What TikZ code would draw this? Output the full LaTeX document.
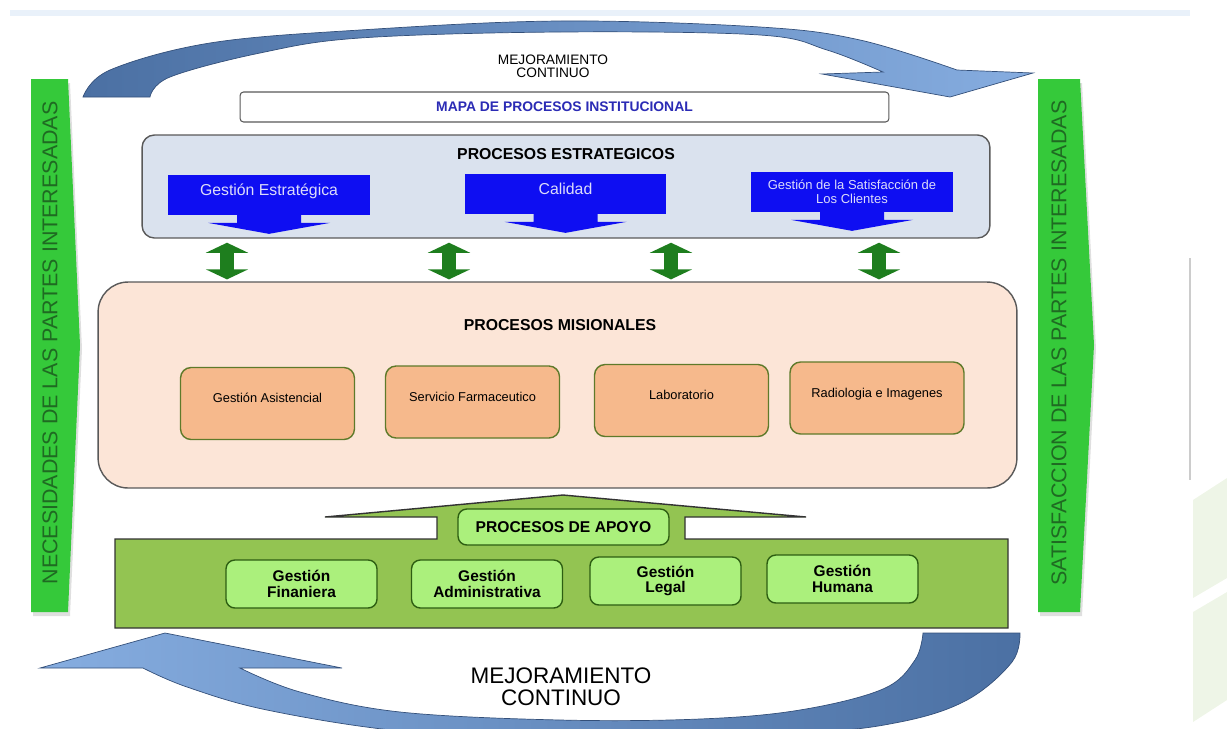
\documentclass[tikz,border=0pt]{standalone}
\usepackage{fontspec}
\setmainfont{Liberation Sans}
\usepackage{xcolor}
\usetikzlibrary{arrows.meta,shapes,calc,positioning}

\definecolor{bandlight}{HTML}{86ADE0}
\definecolor{banddark}{HTML}{4B70A3}
\definecolor{bandedge}{HTML}{34507A}
\definecolor{estrfill}{HTML}{DAE2EE}
\definecolor{boxedge}{HTML}{595959}
\definecolor{estrblue}{HTML}{0E0EF2}
\definecolor{estrtext}{HTML}{DCDCFA}
\definecolor{mapablue}{HTML}{2B2BB5}
\definecolor{misfill}{HTML}{FCE5D7}
\definecolor{orangefill}{HTML}{F6B98C}
\definecolor{orangeedge}{HTML}{5E7A2A}
\definecolor{apoyofill}{HTML}{93C452}
\definecolor{apoyoline}{HTML}{333333}
\definecolor{greenbox}{HTML}{ABF07C}
\definecolor{greenedge}{HTML}{2D5E12}
\definecolor{arrowgreen}{HTML}{1E7E1E}
\definecolor{sidegreen}{HTML}{35C93A}
\definecolor{sidetext}{HTML}{1F6A22}
\definecolor{topline}{HTML}{E9F1FA}
\definecolor{wmark}{HTML}{EEF5E7}

\begin{document}
\begin{tikzpicture}[x=0.02cm, y=-0.02cm]
	\tikzstyle{every node}=[inner sep=0pt]
	\tikzstyle{band}=[draw=bandedge, line width=0.4pt]
	\tikzstyle{sidelabel}=[rotate=90, text=sidetext, font=\fontsize{12.2}{13}\selectfont]
	\tikzstyle{bluebox}=[fill=estrblue, text=estrtext, minimum width=4.04cm, minimum height=0.8cm, font=\fontsize{9}{10}\selectfont]
	\tikzstyle{liftblue}=[text height=6.4pt, text depth=5.6pt]
	\tikzstyle{orangebox}=[draw=orangeedge, fill=orangefill, rounded corners=6pt, line width=0.8pt, minimum width=3.48cm, minimum height=1.44cm, font=\fontsize{7.3}{8}\selectfont, text height=5.2pt, text depth=6.2pt]
	\tikzstyle{apoyotag}=[draw=greenedge, fill=greenbox, rounded corners=5pt, line width=0.8pt]
	\tikzstyle{subbox}=[apoyotag, minimum width=3.02cm, minimum height=0.96cm, align=center, font=\bfseries\fontsize{8.8}{9}\selectfont]
	\tikzstyle{dblgreen}=[draw=arrowgreen, line width=8.5pt, {Triangle[width=23.8pt,length=5.7pt]}-{Triangle[width=23.8pt,length=5.7pt]}, shorten <=2.3pt, shorten >=1.1pt]
	\useasboundingbox (0,0) rectangle (1227,728);

	% background marks
	\fill[topline] (10,10) rectangle (1190,16);
	\fill[wmark] (1193,500) -- (1227,478) -- (1227,578) -- (1193,598) -- cycle;
	\fill[wmark] (1193,612) -- (1227,592) -- (1227,700) -- (1193,722) -- cycle;
	\draw[gray!40, line width=0.6pt] (1190,258) -- (1190,480);

	% mejoramiento continuo arrows
	\draw[band, left color=banddark, right color=bandlight] plot[smooth, tension=0.6] coordinates {(83,97) (110,70) (210,43) (360,30) (560,21) (760,27) (860,40) (957,70)} -- (1033,73) -- (950,97) -- (822,74) -- plot[smooth, tension=0.6] coordinates {(883,72) (827,50) (760,35) (560,32) (360,38) (260,53) (170,77) (150,97)} -- cycle;
	\draw[band, left color=bandlight, right color=banddark] (143,668) -- (40,668) -- (165,633) -- (342,668) -- (240,668) -- plot[smooth, tension=0.6] coordinates {(240,668) (300,692) (400,712) (560,720) (700,719) (800,710) (883,689) (915,660) (923,633)} -- (1020,633) -- plot[smooth, tension=0.6] coordinates {(1020,633) (1012,662) (967,700) (900,722) (800,733) (560,740) (400,731) (267,710) (187,687) (143,668)} -- cycle;
	\node[align=center, font=\fontsize{7.8}{7.4}\selectfont] (mejtop) at (553,66) {MEJORAMIENTO\\CONTINUO};
	\node[align=center, font=\fontsize{12.8}{12.5}\selectfont] (mejbot) at (561,687) {MEJORAMIENTO\\CONTINUO};

	% partes interesadas
	\fill[gray!25] (33,83) -- (70,83) -- (82,349) -- (70,616) -- (33,616) -- cycle;
	\fill[sidegreen] (31,79) -- (68,79) -- (80,345) -- (68,612) -- (31,612) -- cycle;
	\node[sidelabel] (need) at (50,343) {NECESIDADES DE LAS PARTES INTERESADAS};
	\fill[gray!25] (1040,83) -- (1082,83) -- (1096,349) -- (1082,616) -- (1040,616) -- cycle;
	\fill[sidegreen] (1038,79) -- (1080,79) -- (1094,345) -- (1080,612) -- (1038,612) -- cycle;
	\node[sidelabel] (satis) at (1059,343) {SATISFACCION DE LAS PARTES INTERESADAS};

	% mapa y estrategicos
	\node[draw=boxedge, fill=white, rounded corners=2pt, line width=0.6pt, minimum width=12.98cm, minimum height=0.6cm, text=mapablue, font=\bfseries\fontsize{7.9}{9}\selectfont] (mapa) at (564.5,107) {MAPA DE PROCESOS INSTITUCIONAL};
	\node[draw=boxedge, fill=estrfill, rounded corners=7pt, line width=0.8pt, minimum width=16.96cm, minimum height=2.06cm] (estr) at (566,186.5) {};
	\node[font=\bfseries\fontsize{9}{10}\selectfont] (estrtit) at (566,154) {PROCESOS ESTRATEGICOS};
	\node[bluebox, liftblue] (b1) at (269,194.5) {Gestión Estratégica};
	\node[bluebox, liftblue] (b2) at (565.5,193.5) {Calidad};
	\node[bluebox, align=center, font=\fontsize{7.4}{7.9}\selectfont] (b3) at (852,191.5) {Gestión de la Satisfacción de\\Los Clientes};
	\foreach \b in {b1,b2,b3}
		\fill[estrblue] ($(\b.south)+(-32,0)$) -- ++(0,8) -- ++(-29,0) -- ($(\b.south)+(0,19)$) -- ++(61,-11) -- ++(-29,0) -- ++(0,-8) -- cycle;

	% misionales
	\node[draw=boxedge, fill=misfill, rounded corners=0.6cm, line width=0.8pt, minimum width=18.38cm, minimum height=4.12cm] (mis) at (557.5,385) {};
	\node[font=\bfseries\fontsize{9}{10}\selectfont] (mistit) at (560,325) {PROCESOS MISIONALES};
	\node[orangebox] (m1) at (267.5,403.5) {Gestión Asistencial};
	\node[orangebox] (m2) at (472.5,402) {Servicio Farmaceutico};
	\node[orangebox] (m3) at (681.5,400.5) {Laboratorio};
	\node[orangebox] (m4) at (877,398) {Radiologia e Imagenes};
	\foreach \gx in {227,449,671,879} {
		\coordinate (gx) at (\gx,0);
		\draw[dblgreen] (estr.south -| gx) -- (mis.north -| gx);
	}

	% apoyo
	\draw[draw=apoyoline, fill=apoyofill, line width=0.8pt] (115,539) -- (437,539) -- (437,517) -- (325,517) -- (563,495) -- (806,517) -- (685,517) -- (685,539) -- (1008,539) -- (1008,628) -- (115,628) -- cycle;
	\node[apoyotag, minimum width=4.22cm, minimum height=0.72cm, font=\bfseries\fontsize{8.9}{10}\selectfont] (apoyo) at (563.5,527) {PROCESOS DE APOYO};
	\node[subbox] (s1) at (301.5,584) {Gestión\\Finaniera};
	\node[subbox] (s2) at (487,584) {Gestión\\Administrativa};
	\node[subbox] (s3) at (665.5,581) {Gestión\\Legal};
	\node[subbox] (s4) at (842.5,579) {Gestión\\Humana};
\end{tikzpicture}
\end{document}
